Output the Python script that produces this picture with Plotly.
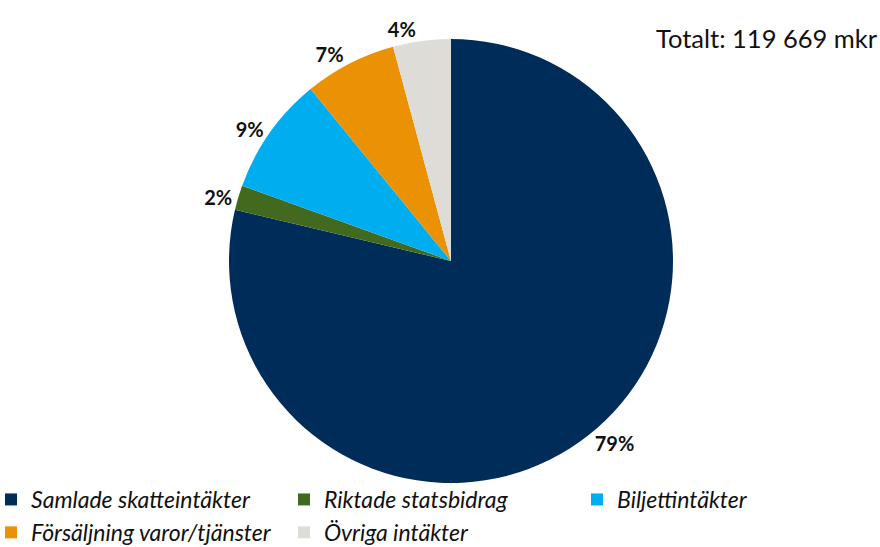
import plotly.graph_objects as go

categories = ["Samlade skatteintäkter", "Riktade statsbidrag", "Biljettintäkter",
              "Försäljning varor/tjänster", "Övriga intäkter"]
shares = [78.7, 1.8, 8.6, 6.7, 4.2]
colors = ["#002C5A", "#426A1E", "#00AEEF", "#EA9104", "#DEDCD6"]
total_text = "Totalt: 119 669 mkr"

W, H = 880, 547
cx, cy, r = 451, 261, 222

fig = go.Figure(go.Pie(
    labels=categories,
    values=shares,
    sort=False,
    direction="clockwise",
    rotation=0,
    marker=dict(colors=colors, line=dict(width=0)),
    textposition="outside",
    texttemplate="<b>%{percent:.0%}</b>",
    textfont=dict(family="Lato", size=20, color="#111111"),
    domain=dict(x=[(cx - r) / W, (cx + r) / W], y=[1 - (cy + r) / H, 1 - (cy - r) / H]),
    hoverinfo="label+percent",
))

fig.add_annotation(
    text=total_text, xref="paper", yref="paper", x=1.0, y=1 - 38 / H,
    xanchor="right", yanchor="middle", showarrow=False,
    font=dict(family="Lato", size=25.5, color="#111111"),
)

fig.update_layout(
    width=W, height=H,
    margin=dict(l=0, r=0, t=0, b=0, autoexpand=False),
    paper_bgcolor="white", plot_bgcolor="white",
    showlegend=True,
    legend=dict(
        orientation="h", x=-9 / W, y=-7 / H, xanchor="left", yanchor="bottom",
        entrywidth=248, entrywidthmode="pixels",
        bgcolor="rgba(0,0,0,0)",
        font=dict(family="Lato", size=23, color="#111111", style="italic"),
        itemwidth=30, tracegroupgap=0,
    ),
)

fig.write_html("out.html", config={"displayModeBar": False},
               post_script="document.body.style.margin='0';")
